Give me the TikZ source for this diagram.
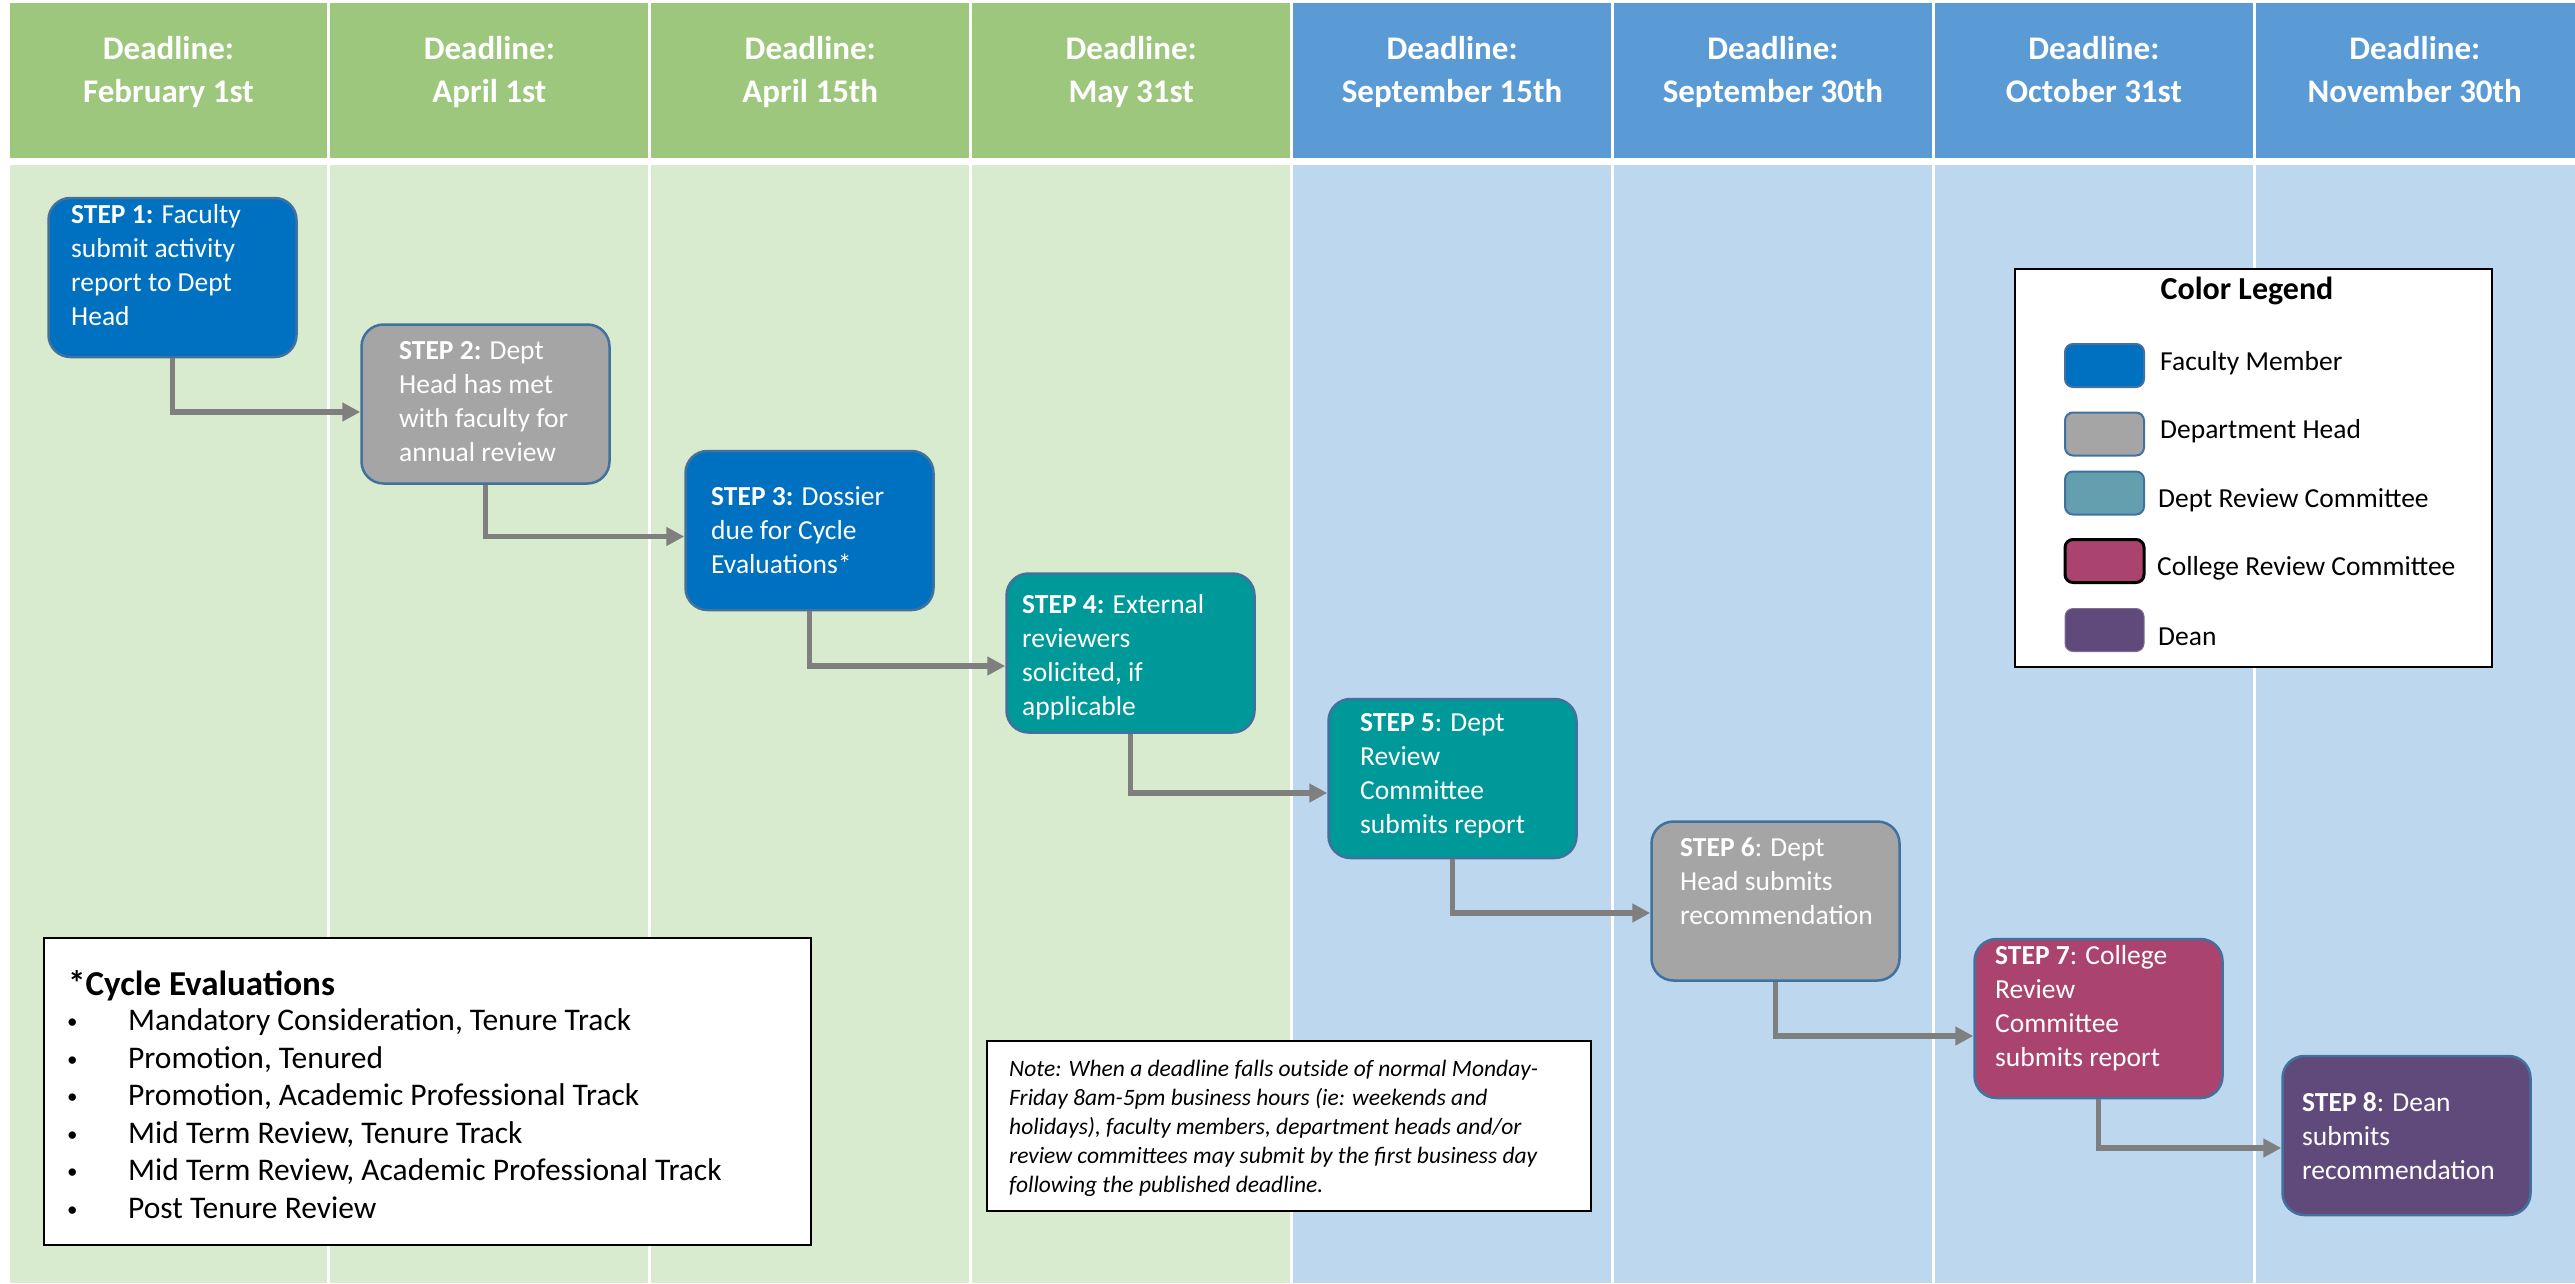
\documentclass[tikz,border=0pt]{standalone}
\usepackage{fontspec}
\setmainfont{Carlito}
\usetikzlibrary{arrows.meta,calc}
\definecolor{hgreen}{HTML}{9DC77C}
\definecolor{bgreen}{HTML}{D8EBCE}
\definecolor{hblue}{HTML}{5B9BD5}
\definecolor{bblue}{HTML}{BDD7EE}
\definecolor{fac}{HTML}{0070C0}
\definecolor{dh}{HTML}{A5A5A5}
\definecolor{tealc}{HTML}{009999}
\definecolor{drc}{HTML}{639FAF}
\definecolor{crc}{HTML}{AA446E}
\definecolor{dean}{HTML}{604A7B}
\definecolor{bord}{HTML}{41719C}
\definecolor{arrowgray}{HTML}{7F7F7F}
\begin{document}
\begin{tikzpicture}[x=1pt,y=-1pt,
  stepbox/.style={draw=bord, line width=2.5pt, rounded corners=22pt, minimum width=248pt, minimum height=159pt, inner sep=0pt},
  steptext/.style={text=white, font=\fontsize{27.5}{34}\selectfont, align=left, inner sep=0pt, anchor=north west},
  flow/.style={draw=arrowgray, line width=5.5pt, -{Triangle[length=18pt,width=18pt]}},
  hdr/.style={text=white, font=\bfseries\fontsize{33}{43}\selectfont, align=center, inner sep=0pt, anchor=north},
  swatch/.style={rounded corners=8pt, minimum width=79pt, minimum height=43pt, inner sep=0pt, line width=2pt},
  legtext/.style={font=\fontsize{27.5}{33}\selectfont, anchor=base west, inner sep=0pt},
  itemtext/.style={font=\fontsize{31.5}{37}\selectfont, anchor=base west, inner sep=0pt},
  bullettext/.style={font=\fontsize{21}{25}\selectfont, anchor=base west, inner sep=0pt},
  panel/.style={draw=black, fill=white, inner sep=0pt},
]
\useasboundingbox (0,0) rectangle (2575,1283);
\fill[white] (0,0) rectangle (2575,1283);
% columns
\foreach \i/\hc/\bc in {0/hgreen/bgreen,1/hgreen/bgreen,2/hgreen/bgreen,3/hgreen/bgreen,4/hblue/bblue,5/hblue/bblue,6/hblue/bblue,7/hblue/bblue}{
  \fill[\hc] ({9.5+320.9*\i},3) rectangle ({8+320.9*(\i+1)-1.5+3*(\i==7)},158);
  \fill[\bc] ({9.5+320.9*\i},165) rectangle ({8+320.9*(\i+1)-1.5+3*(\i==7)},1283);
}
\foreach \i/\d in {0/February 1st,1/April 1st,2/April 15th,3/May 31st,4/September 15th,5/September 30th,6/October 31st,7/November 30th}{
  \node[hdr] (hd\i) at ({8+320.9*(\i+0.5)},28.9) {\strut Deadline:\\\d};
}
% step boxes
\node[stepbox, fill=fac]   (s1) at (172.5,277.5) {};
\node[stepbox, fill=dh]    (s2) at (485.5,404) {};
\node[stepbox, fill=fac]   (s3) at (809.5,530.5) {};
\node[stepbox, fill=tealc] (s4) at (1130.5,653) {};
\node[stepbox, fill=tealc] (s5) at (1452.5,778.5) {};
\node[stepbox, fill=dh]    (s6) at (1775.5,901) {};
\node[stepbox, fill=crc]   (s7) at (2098.5,1018.5) {};
\node[stepbox, fill=dean]  (s8) at (2406.5,1135.5) {};
\node[steptext] (t1) at (71,199.2) {\strut\textbf{STEP 1:} Faculty\\submit activity\\report to Dept\\Head};
\node[steptext] (t2) at (399,335.2) {\strut\textbf{STEP 2:} Dept\\Head has met\\with faculty for\\annual review};
\node[steptext] (t3) at (711,481.2) {\strut\textbf{STEP 3:} Dossier\\due for Cycle\\Evaluations*};
\node[steptext] (t4) at (1022,589.2) {\strut\textbf{STEP 4:} External\\reviewers\\solicited, if\\applicable};
\node[steptext] (t5) at (1360,707.2) {\strut\textbf{STEP 5}: Dept\\Review\\Committee\\submits report};
\node[steptext] (t6) at (1680,832.2) {\strut\textbf{STEP 6}: Dept\\Head submits\\recommendation};
\node[steptext] (t7) at (1995,940.2) {\strut\textbf{STEP 7}: College\\Review\\Committee\\submits report};
\node[steptext] (t8) at (2302,1087.2) {\strut\textbf{STEP 8}: Dean\\submits\\recommendation};
% connectors
\draw[flow] (s1.south) |- ($(s2.west)+(0,8)$);
\draw[flow] (s2.south) |- ($(s3.west)+(0,6)$);
\draw[flow] (s3.south) |- ($(s4.west)+(0,13)$);
\draw[flow] (s4.south) |- ($(s5.west)+(0,14.5)$);
\draw[flow] (s5.south) |- ($(s6.west)+(0,12)$);
\draw[flow] (s6.south) |- ($(s7.west)+(0,17.5)$);
\draw[flow] (s7.south) |- ($(s8.west)+(0,12.5)$);
% legend
\node[panel, line width=2pt, minimum width=477pt, minimum height=398pt] (legend) at (2253.5,468) {};
\node[font=\bfseries\fontsize{32}{38}\selectfont, anchor=base, inner sep=0pt] (legtitle) at (2247,299) {Color Legend};
\node[swatch, fill=fac, draw=bord] (lg1) at (2104.5,365.5) {};
\node[swatch, fill=dh, draw=bord] (lg2) at (2104.5,434) {};
\node[swatch, fill=drc, draw=bord] (lg3) at (2104.5,493) {};
\node[swatch, fill=crc, draw=black, line width=3pt] (lg4) at (2104.5,561) {};
\node[swatch, fill=dean, draw=dean!80!white, line width=1pt] (lg5) at (2104.5,630) {};
\node[legtext] (lt1) at (2160,370) {Faculty Member};
\node[legtext] (lt2) at (2160,438) {Department Head};
\node[legtext] (lt3) at (2158,507) {Dept Review Committee};
\node[legtext] (lt4) at (2157,575) {College Review Committee};
\node[legtext] (lt5) at (2158,645) {Dean};
% cycle evaluations
\node[panel, line width=2pt, minimum width=767pt, minimum height=307pt] (cycle) at (427.5,1091.5) {};
\node[font=\bfseries\fontsize{35}{42}\selectfont, anchor=base west, inner sep=0pt] (cyctitle) at (68,995) {*Cycle Evaluations};
\foreach \k/\t in {0/{Mandatory Consideration, Tenure Track},1/{Promotion, Tenured},2/{Promotion, Academic Professional Track},3/{Mid Term Review, Tenure Track},4/{Mid Term Review, Academic Professional Track},5/{Post Tenure Review}}{
  \node[bullettext] (cb\k) at (67,{1028.5+37.5*\k}) {•};
  \node[itemtext] (ci\k) at (128,{1030.5+37.5*\k}) {\t};
}
% note
\node[panel, line width=2.5pt, minimum width=604pt, minimum height=170pt] (note) at (1289,1126) {};
\node[font=\itshape\fontsize{23.5}{29}\selectfont, align=left, anchor=north west, inner sep=0pt] (notetext) at (1009,1055.7) {\strut Note: When a deadline falls outside of normal Monday-\\Friday 8am-5pm business hours (ie: weekends and\\holidays), faculty members, department heads and/or\\review committees may submit by the first business day\\following the published deadline.};
\end{tikzpicture}
\end{document}
